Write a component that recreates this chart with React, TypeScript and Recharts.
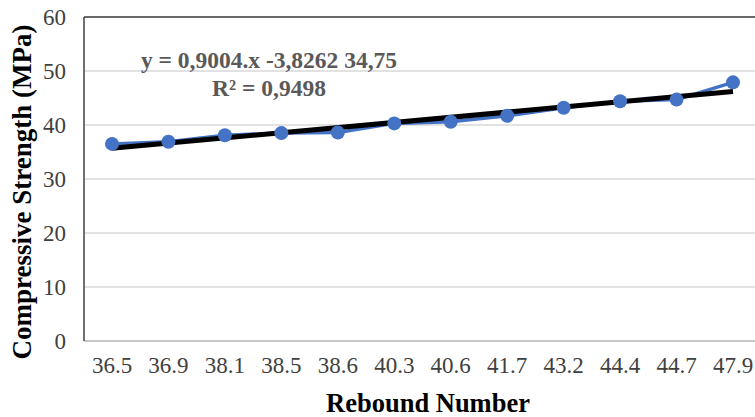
import { CartesianGrid, Line, LineChart, ReferenceLine, XAxis, YAxis } from 'recharts'

const reboundNumbers = ['36.5', '36.9', '38.1', '38.5', '38.6', '40.3', '40.6', '41.7', '43.2', '44.4', '44.7', '47.9']
const strengthValues = [36.5, 36.9, 38.1, 38.5, 38.6, 40.3, 40.6, 41.7, 43.2, 44.4, 44.7, 47.9]
// trend line read at first and last category
const trendValues = [35.7, null, null, null, null, null, null, null, null, null, null, 46.2]
const yTicks = [0, 10, 20, 30, 40, 50, 60]

const FONT = '"Liberation Serif", "Times New Roman", serif'

const chartData = reboundNumbers.map((label, i) => ({
  label,
  strength: strengthValues[i],
  trend: trendValues[i],
}))

function YTitle({ viewBox }: any) {
  const cx = 22
  const cy = viewBox.y + viewBox.height / 2 + 13
  return (
    <text
      x={cx}
      y={cy}
      transform={`rotate(-90 ${cx} ${cy})`}
      textAnchor="middle"
      dominantBaseline="central"
      fontFamily={FONT}
      fontWeight="bold"
      fontSize={27}
      fill="#000"
    >
      Compressive Strength (MPa)
    </text>
  )
}

function XTitle() {
  return (
    <text
      x={428}
      y={403}
      textAnchor="middle"
      dominantBaseline="central"
      fontFamily={FONT}
      fontWeight="bold"
      fontSize={26.5}
      fill="#000"
    >
      Rebound Number
    </text>
  )
}

export default function App() {
  return (
    <div style={{ position: 'absolute', left: 0, top: 0, width: 755, height: 417, overflow: 'hidden', background: '#fff' }}>
      <LineChart width={770} height={417} data={chartData} margin={{ top: 17, right: 9, bottom: 0, left: 0 }}>
        <CartesianGrid vertical={false} stroke="#d9d9d9" strokeWidth={1.5} />
        <ReferenceLine y={60} stroke="#404040" strokeWidth={1.5} />
        <XAxis
          dataKey="label"
          height={76}
          padding={{ left: 28, right: 28 }}
          tickLine={false}
          axisLine={{ stroke: '#bfbfbf', strokeWidth: 1.5 }}
          tick={{ fontFamily: FONT, fontSize: 23, fill: '#404040' }}
          tickMargin={10}
          interval={0}
          label={{ content: XTitle }}
        />
        <YAxis
          width={84}
          domain={[0, 60]}
          ticks={yTicks}
          tickLine={false}
          axisLine={{ stroke: '#404040', strokeWidth: 1.5 }}
          tick={{ fontFamily: FONT, fontSize: 23, fill: '#404040' }}
          tickMargin={12}
          label={{ content: YTitle }}
        />
        <Line
          dataKey="strength"
          stroke="#4472c4"
          strokeWidth={3.5}
          dot={{ r: 7, fill: '#4472c4', stroke: '#4472c4', strokeWidth: 0 }}
          activeDot={false}
          isAnimationActive={false}
        />
        <Line
          dataKey="trend"
          stroke="#000"
          strokeWidth={5}
          dot={false}
          activeDot={false}
          connectNulls
          isAnimationActive={false}
        />
      </LineChart>
      <div
        style={{
          position: 'absolute',
          left: 0,
          width: 538,
          top: 46,
          textAlign: 'center',
          fontFamily: FONT,
          fontWeight: 'bold',
          fontSize: 23.5,
          color: '#595959',
          lineHeight: '28px',
        }}
      >
        y = 0,9004.x -3,8262 34,75
        <br />
        R² = 0,9498
      </div>
    </div>
  )
}
